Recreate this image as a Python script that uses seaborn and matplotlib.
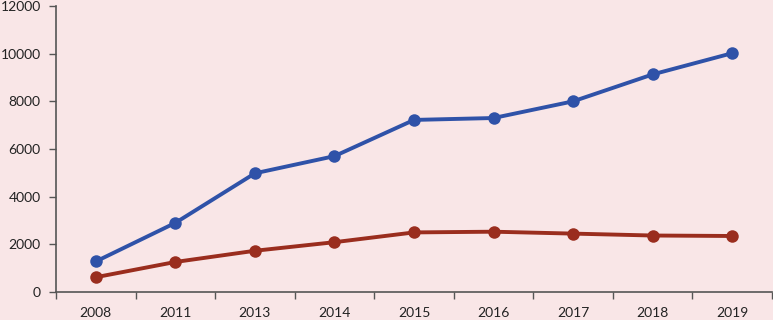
import matplotlib
matplotlib.use("Agg")
import matplotlib.pyplot as plt
import seaborn as sns
import pandas as pd
import numpy as np

years = ["2008", "2011", "2013", "2014", "2015", "2016", "2017", "2018", "2019"]
series_blue = [1280, 2900, 4980, 5700, 7220, 7300, 8000, 9130, 10020]
series_red = [620, 1260, 1730, 2090, 2500, 2530, 2450, 2370, 2350]

sns.set_style("ticks")
plt.rcParams['font.family'] = ['Lato', 'DejaVu Sans']

bg = "#F9E6E7"
fig = plt.figure(figsize=(7.73, 3.2), dpi=100, facecolor=bg)
ax = fig.add_axes([56/773, 28/320, 716/773, 286/320])
ax.set_facecolor(bg)

idx = np.arange(len(years))
df = pd.DataFrame({"x": np.concatenate([idx, idx]),
                   "y": series_blue + series_red,
                   "s": ["blue"] * len(years) + ["red"] * len(years)})
sns.lineplot(data=df, x="x", y="y", hue="s", palette={"blue": "#2F52A8", "red": "#9A2D1E"},
             marker="o", markersize=9, markeredgewidth=0, linewidth=2.8, legend=False, ax=ax)

ax.set_xlim(-0.5, len(years) - 0.5)
ax.set_ylim(0, 12000)
ax.set_yticks(np.arange(0, 12001, 2000))
ax.set_xticks(np.arange(-0.5, len(years), 1.0))
ax.set_xticklabels([])
ax.set_xticks(idx, minor=True)
ax.set_xticklabels(years, minor=True)
ax.tick_params(axis="x", which="minor", length=0, pad=11, labelsize=10, colors="#222222")
ax.tick_params(axis="x", which="major", length=5, width=1, color="#555555", direction="out")
ax.tick_params(axis="y", length=5, width=1, color="#555555", labelsize=10, labelcolor="#222222", pad=6)
ax.set_xlabel("")
ax.set_ylabel("")
for s in ["top", "right"]:
    ax.spines[s].set_visible(False)
for s in ["left", "bottom"]:
    ax.spines[s].set_color("#555555")
    ax.spines[s].set_linewidth(1.2)

fig.savefig("out.png", dpi=100, facecolor=bg)
